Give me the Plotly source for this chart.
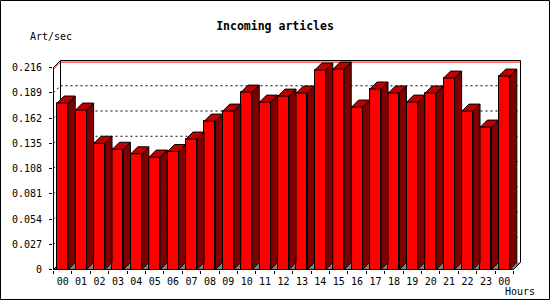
import plotly.graph_objects as go

# ---- data ----
hours = ["00", "01", "02", "03", "04", "05", "06", "07", "08", "09", "10", "11",
         "12", "13", "14", "15", "16", "17", "18", "19", "20", "21", "22", "23", "00"]
art_per_sec = [0.178, 0.1705, 0.135, 0.1286, 0.1237, 0.1202, 0.1262, 0.1395,
               0.1587, 0.1694, 0.1897, 0.179, 0.1854, 0.1887, 0.2133, 0.2143,
               0.1737, 0.193, 0.1887, 0.179, 0.1887, 0.2047, 0.1694, 0.1523, 0.2068]
y_ticks = [0, 0.027, 0.054, 0.081, 0.108, 0.135, 0.162, 0.189, 0.216]
y_ticktext = ["0", "0.027", "0.054", "0.081", "0.108", "0.135", "0.162", "0.189", "0.216"]
title = "Incoming articles"
y_title = "Art/sec"
x_title = "Hours"

# ---- geometry (pixels) ----
W, H = 550, 300
ML, MR, MT, MB = 53, 28, 60, 30
plot_w = W - ML - MR
plot_h = H - MT - MB
CAT_PX = 18.4       # pixels per category
DEPTH = 7           # 3d offset in pixels
FRONT_H = 202       # pixel height of front y-axis (0 .. top tick)
n = len(hours)

ymax_tick = y_ticks[-1]
Y_PX = FRONT_H / ymax_tick
DX = DEPTH / CAT_PX
DY = DEPTH / Y_PX
BW = 0.6
xs = list(range(n))
xmin, xmax = -0.5, n - 0.5
xr0 = xmin - 0.5 / CAT_PX
xr1 = xr0 + plot_w / CAT_PX
yr0 = -0.5 / Y_PX
yr1 = yr0 + plot_h / Y_PX

FRONT = "#ff0000"
TOP = "#c00000"
SIDE = "#800000"
FLOOR = "#808080"
FONT = "DejaVu Sans Mono"

fig = go.Figure()

# front faces
fig.add_trace(go.Bar(x=xs, y=art_per_sec, width=BW, marker=dict(color=FRONT, line=dict(color="black", width=1)),
                     hoverinfo="skip", showlegend=False))

# side faces and top faces
sx, sy, tx, ty = [], [], [], []
for c, v in zip(xs, art_per_sec):
    r = c + BW / 2
    l = c - BW / 2
    sx += [r, r + DX, r + DX, r, r, None]
    sy += [0, DY, v + DY, v, 0, None]
    tx += [l, r, r + DX, l + DX, l, None]
    ty += [v, v, v + DY, v + DY, v, None]
fig.add_trace(go.Scatter(x=sx, y=sy, mode="lines", fill="toself", fillcolor=SIDE,
                         line=dict(color="black", width=1), hoverinfo="skip", showlegend=False))
fig.add_trace(go.Scatter(x=tx, y=ty, mode="lines", fill="toself", fillcolor=TOP,
                         line=dict(color="black", width=1), hoverinfo="skip", showlegend=False))

shapes = []
# floor
shapes.append(dict(type="path", layer="below",
                   path=f"M {xmin},0 L {xmax},0 L {xmax+DX},{DY} L {xmin+DX},{DY} Z",
                   fillcolor=FLOOR, line=dict(width=0)))
# dashed grid on back wall + left wall
for t in y_ticks[1:-1]:
    shapes.append(dict(type="line", layer="below", x0=xmin + DX, x1=xmax + DX, y0=t + DY, y1=t + DY,
                       line=dict(color="black", width=1, dash="2px,3px")))
    shapes.append(dict(type="line", layer="below", x0=xmin, x1=xmin + DX, y0=t, y1=t + DY,
                       line=dict(color="black", width=1, dash="2px,3px")))
# max value red line
vmax = max(art_per_sec)
shapes.append(dict(type="line", layer="below", x0=xmin + DX, x1=xmax + DX, y0=vmax + DY, y1=vmax + DY,
                   line=dict(color="red", width=1)))
shapes.append(dict(type="line", layer="below", x0=xmin, x1=xmin + DX, y0=vmax, y1=vmax + DY,
                   line=dict(color="red", width=1)))
# back wall frame
for (x0, y0, x1, y1) in [
    (xmin + DX, ymax_tick + DY, xmax + DX, ymax_tick + DY),
    (xmin + DX, DY, xmin + DX, ymax_tick + DY),
    (xmax + DX, DY, xmax + DX, ymax_tick + DY),
    (xmin, ymax_tick, xmin + DX, ymax_tick + DY),
    (xmin, 0, xmin + DX, DY),
    (xmax, 0, xmax + DX, DY),
]:
    shapes.append(dict(type="line", layer="below", x0=x0, y0=y0, x1=x1, y1=y1,
                       line=dict(color="black", width=1)))
# front axes
shapes.append(dict(type="line", layer="above", x0=xmin, x1=xmin, y0=0, y1=ymax_tick,
                   line=dict(color="black", width=1)))
shapes.append(dict(type="line", layer="above", x0=xmin, x1=xmax, y0=0, y1=0,
                   line=dict(color="black", width=1)))


def px_x(p):
    return (p - ML) / plot_w


def px_y(p):
    return (MT + plot_h - p) / plot_h


# image border
shapes.append(dict(type="rect", xref="paper", yref="paper", layer="above",
                   x0=px_x(0.5), x1=px_x(W - 0.5), y0=px_y(H - 0.5), y1=px_y(0.5),
                   line=dict(color="black", width=1), fillcolor="rgba(0,0,0,0)"))

fig.update_layout(
    width=W, height=H,
    margin=dict(l=ML, r=MR, t=MT, b=MB, pad=0),
    paper_bgcolor="white", plot_bgcolor="white",
    bargap=0,
    showlegend=False,
    shapes=shapes,
    title=dict(text=f"<b>{title}</b>", x=0.5, xref="container", y=1 - 26 / H, yref="container",
               xanchor="center", yanchor="middle",
               font=dict(family=FONT, size=11.5, color="black")),
    xaxis=dict(range=[xr0, xr1], showgrid=False, zeroline=False, showline=False,
               tickmode="array", tickvals=[i - 0.5 for i in range(n + 1)],
               ticks="outside", ticklen=3, tickcolor="black", tickwidth=1,
               showticklabels=False, fixedrange=True),
    xaxis2=dict(range=[xr0, xr1], overlaying="x", anchor="y", side="bottom",
                showgrid=False, zeroline=False, showline=False,
                tickmode="array", tickvals=xs, ticktext=hours, ticks="",
                ticklabelstandoff=4,
                tickfont=dict(family=FONT, size=10, color="black"), fixedrange=True),
    yaxis=dict(range=[yr0, yr1], showgrid=False, zeroline=False, showline=False,
               tickmode="array", tickvals=y_ticks, ticktext=y_ticktext,
               ticks="outside", ticklen=3, tickcolor="black", tickwidth=1,
               ticklabelstandoff=5,
               tickfont=dict(family=FONT, size=10, color="black"), fixedrange=True),
    annotations=[
        dict(text=y_title, xref="paper", yref="paper", x=px_x(50.5), y=px_y(36.7),
             xanchor="center", yanchor="middle", showarrow=False,
             font=dict(family=FONT, size=10, color="black")),
        dict(text=x_title, xref="paper", yref="paper", x=px_x(519.5), y=px_y(291.5),
             xanchor="center", yanchor="middle", showarrow=False,
             font=dict(family=FONT, size=10, color="black")),
    ],
)
# invisible trace to activate xaxis2 labels
fig.add_trace(go.Scatter(x=[xs[0]], y=[0], xaxis="x2", mode="markers", marker=dict(opacity=0),
                         hoverinfo="skip", showlegend=False))

fig.write_html("out.html")
